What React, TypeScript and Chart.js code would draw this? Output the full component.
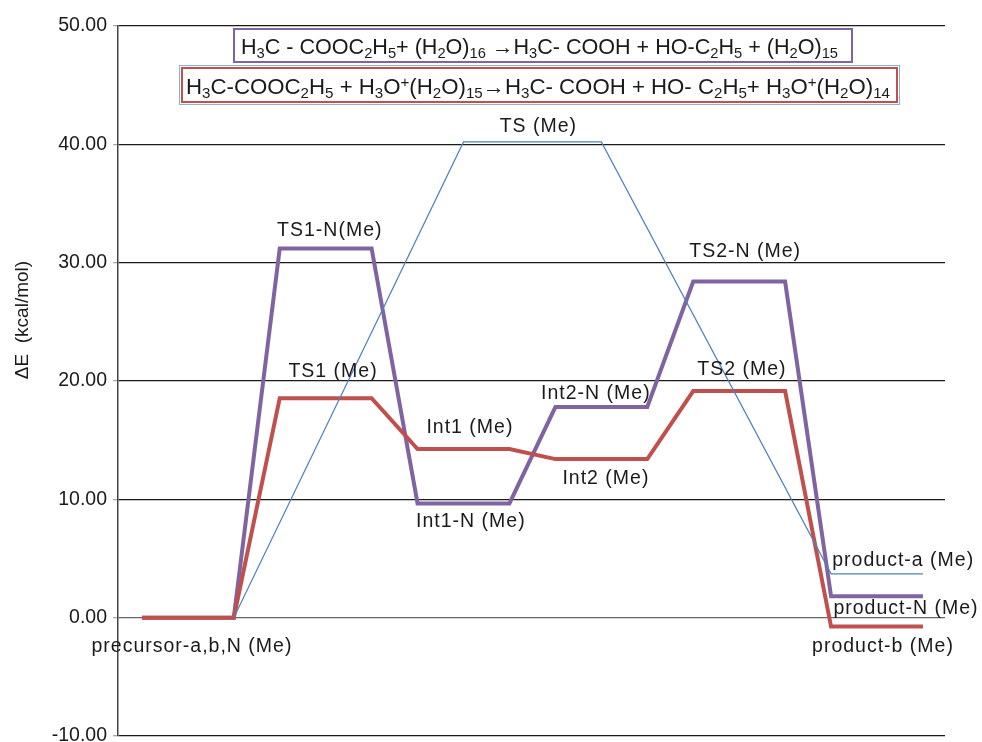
import React, { useEffect, useRef } from "react";
import { Chart, registerables } from "chart.js";

Chart.register(...registerables);

// ---- data ----
const stepX = [0, 2, 3, 5, 6, 8, 9, 11, 12, 14, 15, 17];
const pathN = [0, 0, 31.2, 31.2, 9.65, 9.65, 17.8, 17.8, 28.4, 28.4, 1.8, 1.8];
const pathB = [0, 0, 18.55, 18.55, 14.25, 14.25, 13.4, 13.4, 19.15, 19.15, -0.75, -0.75];
const pathAX = [2, 7, 10, 15, 17];
const pathA = [0, 40.2, 40.2, 3.7, 3.7];

const yTicks = [-10, 0, 10, 20, 30, 40, 50];

const labelText = [
  "TS1-N(Me)", "TS1 (Me)", "TS (Me)", "Int1 (Me)", "Int2-N (Me)", "Int2 (Me)",
  "Int1-N (Me)", "TS2-N (Me)", "TS2 (Me)", "precursor-a,b,N (Me)",
  "product-a (Me)", "product-N (Me)", "product-b (Me)",
];
const labelX = [4.09, 4.16, 8.63, 7.14, 9.88, 10.1, 7.16, 13.13, 13.06, 1.09, 16.57, 16.63, 16.13];
const labelY = [32.23, 20.31, 41.02, 15.58, 18.45, 11.27, 7.63, 30.46, 20.48, -2.93, 4.34, 0.28, -2.93];

const formulaN = "H_{3}C - COOC_{2}H_{5}+ (H_{2}O)_{16} →H_{3}C- COOH + HO-C_{2}H_{5} + (H_{2}O)_{15}";
const formulaB = "H_{3}C-COOC_{2}H_{5} + H_{3}O^{+}(H_{2}O)_{15}→H_{3}C- COOH + HO- C_{2}H_{5}+ H_{3}O^{+}(H_{2}O)_{14}";

const PURPLE = "#8064A2";
const RED = "#C0504D";
const BLUE = "#4F81BD";
const FONT = "'Liberation Sans', Arial, Helvetica, sans-serif";

function parseRich(s: string) {
  const out: { t: string; k: "n" | "sub" | "sup" }[] = [];
  const re = /_\{([^}]*)\}|\^\{([^}]*)\}|([^_^]+)/g;
  let m: RegExpExecArray | null;
  while ((m = re.exec(s))) {
    if (m[1] !== undefined) out.push({ t: m[1], k: "sub" });
    else if (m[2] !== undefined) out.push({ t: m[2], k: "sup" });
    else out.push({ t: m[3], k: "n" });
  }
  return out;
}

function drawRich(ctx: CanvasRenderingContext2D, s: string, x0: number, x1: number, baseline: number, size: number) {
  const segs = parseRich(s);
  const big = `${size}px ${FONT}`;
  const small = `${Math.round(size * 0.68)}px ${FONT}`;
  let total = 0;
  const widths = segs.map((g) => {
    ctx.font = g.k === "n" ? big : small;
    const w = ctx.measureText(g.t).width;
    total += w;
    return w;
  });
  const sx = (x1 - x0) / total;
  ctx.save();
  ctx.translate(x0, baseline);
  ctx.scale(sx, 1);
  ctx.fillStyle = "#1a1a1a";
  ctx.textBaseline = "alphabetic";
  ctx.textAlign = "left";
  let cx = 0;
  segs.forEach((g, i) => {
    ctx.font = g.k === "n" ? big : small;
    const dy = g.k === "sub" ? size * 0.2 : g.k === "sup" ? -size * 0.3 : 0;
    ctx.fillText(g.t, cx, dy);
    cx += widths[i];
  });
  ctx.restore();
}

const annotations = {
  id: "annotations",
  afterDatasetsDraw(chart: any) {
    const ctx: CanvasRenderingContext2D = chart.ctx;
    const xs = chart.scales.x;
    const ys = chart.scales.y;
    ctx.save();
    // point labels
    ctx.font = `19.5px ${FONT}`;
    (ctx as any).letterSpacing = "1px";
    ctx.fillStyle = "#1a1a1a";
    ctx.textAlign = "center";
    ctx.textBaseline = "alphabetic";
    labelText.forEach((t, i) => {
      ctx.fillText(t, xs.getPixelForValue(labelX[i]), ys.getPixelForValue(labelY[i]));
    });
    (ctx as any).letterSpacing = "0px";

    // y axis title
    ctx.save();
    ctx.translate(23, 320);
    ctx.rotate(-Math.PI / 2);
    ctx.font = `19px ${FONT}`;
    ctx.textAlign = "center";
    ctx.textBaseline = "middle";
    ctx.fillText("\u0394E  (kcal/mol)", 0, 0);
    ctx.restore();

    // formula boxes
    ctx.fillStyle = "#ffffff";
    ctx.fillRect(234, 29, 618, 33);
    ctx.strokeStyle = PURPLE;
    ctx.lineWidth = 2;
    ctx.strokeRect(234, 29, 618, 33);
    drawRich(ctx, formulaN, 241, 838, 54, 22);

    ctx.fillStyle = "#ffffff";
    ctx.fillRect(179.5, 65.5, 720, 39);
    ctx.strokeStyle = "#8DB0DA";
    ctx.lineWidth = 1;
    ctx.strokeRect(179.5, 65.5, 720, 39);
    ctx.strokeStyle = RED;
    ctx.lineWidth = 2;
    ctx.strokeRect(182, 68, 715, 34);
    drawRich(ctx, formulaB, 186, 890, 94, 22);
    ctx.restore();
  },
};

export default function App() {
  const ref = useRef<HTMLCanvasElement | null>(null);
  useEffect(() => {
    if (!ref.current) return;
    const chart = new Chart(ref.current, {
      type: "line",
      data: {
        datasets: [
          {
            label: "a",
            data: pathAX.map((x, i) => ({ x, y: pathA[i] })),
            borderColor: BLUE,
            borderWidth: 1.2,
            pointRadius: 0,
            tension: 0,
          },
          {
            label: "b",
            data: stepX.map((x, i) => ({ x, y: pathB[i] })),
            borderColor: RED,
            borderWidth: 4,
            pointRadius: 0,
            tension: 0,
          },
          {
            label: "N",
            data: stepX.map((x, i) => ({ x, y: pathN[i] })),
            borderColor: PURPLE,
            borderWidth: 4,
            pointRadius: 0,
            tension: 0,
          },
        ],
      },
      options: {
        animation: false,
        responsive: true,
        maintainAspectRatio: false,
        layout: { padding: { left: 0, top: 26, right: 37, bottom: 6 } },
        plugins: { legend: { display: false }, tooltip: { enabled: false } },
        scales: {
          x: { type: "linear", min: -0.52, max: 17.48, display: false },
          y: {
            type: "linear",
            min: -10,
            max: 50,
            afterFit: (s: any) => {
              s.width = 118;
              s.paddingTop = 0;
              s.paddingBottom = 0;
            },
            afterBuildTicks: (s: any) => {
              s.ticks = yTicks.map((v) => ({ value: v }));
            },
            ticks: {
              callback: (v: any) => Number(v).toFixed(2),
              font: { family: FONT, size: 19.5 },
              color: "#1a1a1a",
              padding: 6,
            },
            grid: {
              color: (c: any) => (c.tick && c.tick.value === 0 ? "#666666" : "#1a1a1a"),
              lineWidth: 1.3,
              tickLength: 5,
              tickColor: "#aaaaaa",
              drawTicks: true,
            },
            border: { display: true, color: "#444444", width: 1.5 },
          },
        },
      },
      plugins: [annotations],
    });
    return () => chart.destroy();
  }, []);
  return (
    <div style={{ position: "absolute", left: 0, top: 0, width: 982, height: 742, background: "#fff" }}>
      <canvas ref={ref} />
    </div>
  );
}
